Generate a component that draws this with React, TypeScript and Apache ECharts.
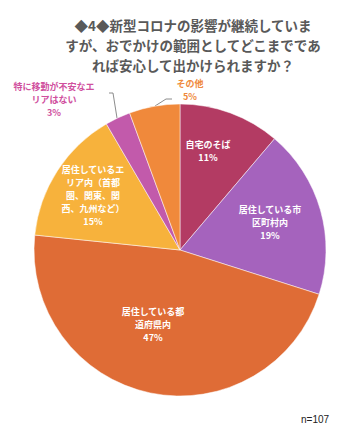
import React, { useEffect, useRef } from "react";
import * as echarts from "echarts";

const categories = [
  "自宅のそば",
  "居住している市区町村内",
  "居住している都道府県内",
  "居住しているエリア内（首都圏、関東、関西、九州など）",
  "特に移動が不安なエリアはない",
  "その他",
];
const labelTexts = [
  "自宅のそば",
  "居住している市\n区町村内",
  "居住している都\n道府県内",
  "居住しているエ\nリア内（首都\n圏、関東、関\n西、九州など）",
  "特に移動が不安なエ\nリアはない",
  "その他",
];
const counts = [12, 20, 50, 16, 3, 6];
const percents = ["11%", "19%", "47%", "15%", "3%", "5%"];
const colors = ["#b33b63", "#a563bd", "#df6c36", "#f7b23c", "#c25aab", "#f0893b"];
const labelPos = [
  [208, 151],
  [270, 222],
  [153, 324],
  [93, 195],
  [54, 99],
  [190, 90],
];
const leaderPoints: (number[][] | null)[] = [
  null,
  null,
  null,
  null,
  [[117, 118], [113, 93], [109, 93]],
  [[155, 106], [166, 99], [172, 99]],
];
const outside = [false, false, false, false, true, true];
const labelColors = ["#fff", "#fff", "#fff", "#fff", "#d0509e", "#ef8a3c"];

export default function App() {
  const ref = useRef<HTMLDivElement>(null);
  useEffect(() => {
    if (!ref.current) return;
    const chart = echarts.init(ref.current, undefined, { renderer: "svg" });
    const font = "'Noto Sans CJK JP', 'Noto Sans', sans-serif";
    chart.setOption({
      animation: false,
      backgroundColor: "#ffffff",
      title: [
        {
          text: "◆4◆新型コロナの影響が継続していま\nすが、おでかけの範囲としてどこまでであ\nれば安心して出かけられますか？",
          left: 188,
          top: 10,
          textAlign: "center",
          textStyle: {
            fontFamily: font,
            fontSize: 13.5,
            fontWeight: "bold",
            color: "#595959",
            lineHeight: 20,
          },
        },
        {
          text: "n=107",
          left: 296,
          top: 409,
          textStyle: { fontFamily: "'Liberation Sans', Arial, sans-serif", fontSize: 10, fontWeight: "normal", color: "#222" },
        },
      ],
      series: [
        {
          type: "pie",
          center: [180, 250],
          radius: 146,
          startAngle: 90,
          clockwise: true,
          avoidLabelOverlap: false,
          itemStyle: { borderColor: "#ffffff", borderWidth: 0.5 },
          labelLine: { show: true, length: 8, length2: 4, lineStyle: { color: "#6f6f6f", width: 0.8 } },
          labelLayout: (p: any) => {
            const pos = labelPos[p.dataIndex];
            const res: any = { x: pos[0], y: pos[1], align: "center", verticalAlign: "middle", hideOverlap: false };
            const lp = leaderPoints[p.dataIndex];
            if (lp) res.labelLinePoints = lp;
            return res;
          },
          data: categories.map((name, i) => ({
            name,
            value: counts[i],
            itemStyle: { color: colors[i] },
            label: {
              show: true,
              position: outside[i] ? "outside" : "inside",
              alignTo: "none",
              overflow: "none",
              formatter: labelTexts[i] + "\n" + percents[i],
              color: labelColors[i],
              fontFamily: font,
              fontSize: 9,
              fontWeight: "bold",
              lineHeight: 13,
              align: "center",
            },
            labelLine: {
              show: outside[i],
            },
          })),
        },
      ],
    });
    return () => chart.dispose();
  }, []);
  return <div ref={ref} style={{ position: "absolute", left: 0, top: 0, width: 360, height: 430 }} />;
}
